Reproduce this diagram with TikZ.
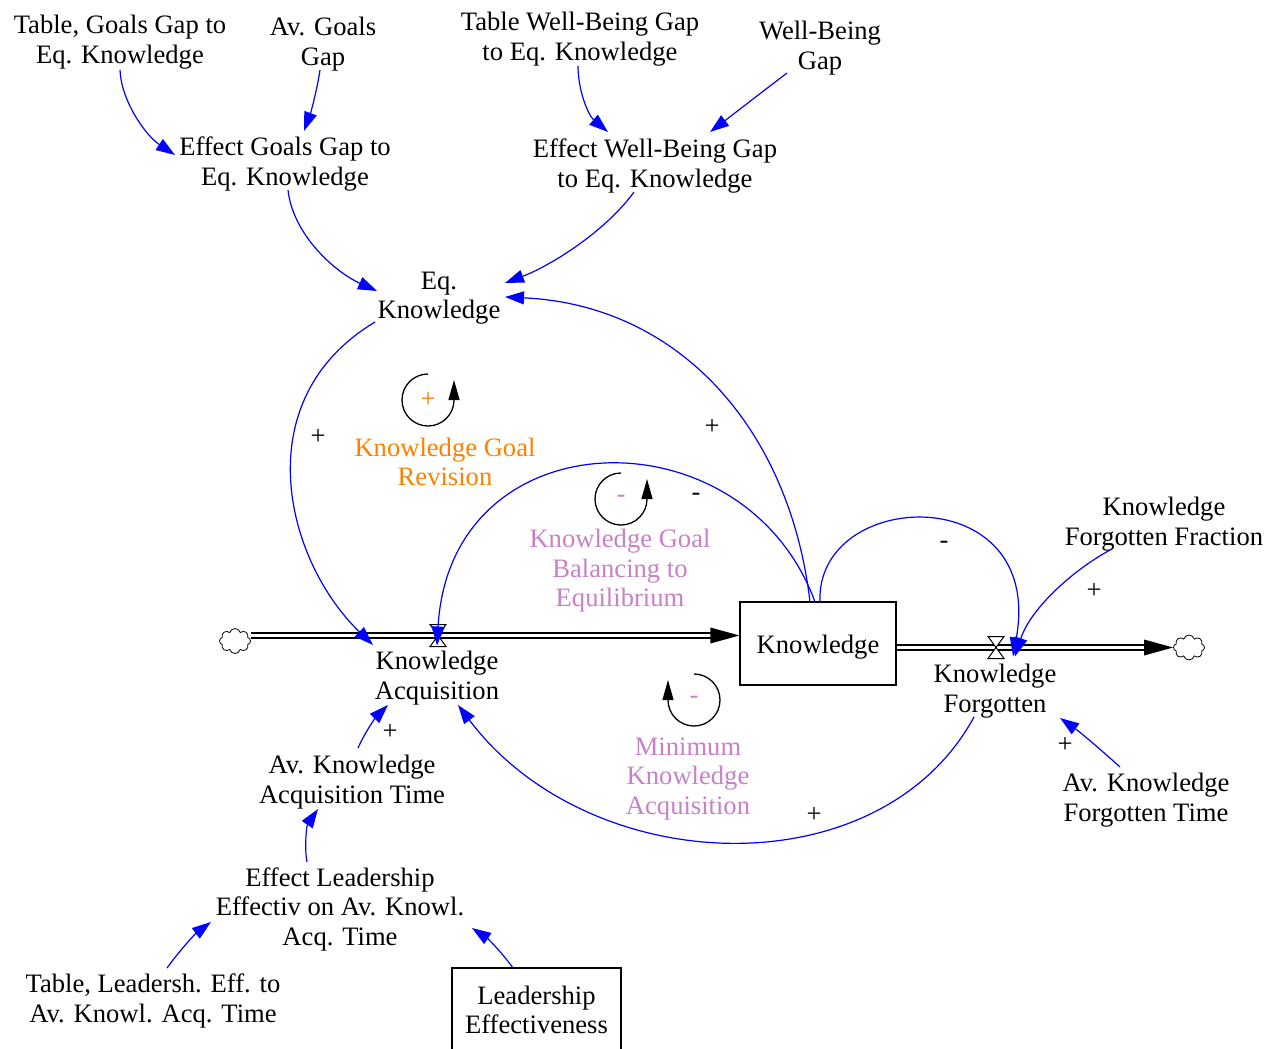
\documentclass[tikz,border=0pt]{standalone}
\usepackage{fontspec}
\setmainfont{Liberation Serif}
\usetikzlibrary{arrows.meta,calc,shapes.symbols}
\definecolor{linkblue}{RGB}{0,0,255}
\definecolor{looporange}{RGB}{255,128,0}
\definecolor{loopviolet}{RGB}{200,128,200}
\tikzset{
  txt/.style={align=center,font=\fontsize{26.6}{29.5}\selectfont},
  lbl/.style={txt,inner sep=1pt,yshift=-3pt},
  pol/.style={font=\fontsize{26.6}{29.5}\selectfont,inner sep=0pt,yshift=-2pt},
  cause/.style={draw=linkblue,line width=1.2pt,-{Triangle[length=19pt,width=13pt]}},
  stockbox/.style={txt,inner sep=1pt,draw,line width=1.2pt,minimum width=156pt,minimum height=83pt},
  pipe/.style={draw,double,double distance=3.5pt,line width=1.3pt},
  valvebox/.style={line width=1pt,fill=white},
  sink/.style={cloud,cloud puffs=8,draw,line width=0.8pt,minimum width=31pt,minimum height=25pt,inner sep=0pt,aspect=1.3},
  loopmark/.style={line width=1.3pt,-{Triangle[length=20pt,width=11pt]}},
}
\begin{document}
\begin{tikzpicture}[x=1pt,y=1pt]
\useasboundingbox (0,0) rectangle (1282,-1049);
\clip (0,0) rectangle (1282,-1049);

% auxiliaries and constants
\node[lbl] (tgg) at (120,-39) {Table, Goals Gap to\\Eq. Knowledge};
\node[lbl] (agg) at (323,-41) {Av. Goals\\Gap};
\node[lbl] (twb) at (580,-36) {Table Well-Being Gap\\to Eq. Knowledge};
\node[lbl] (wbg) at (820,-45) {Well-Being\\Gap};
\node[lbl] (egg) at (285,-161) {Effect Goals Gap to\\Eq. Knowledge};
\node[lbl] (ewb) at (655,-163) {Effect Well-Being Gap\\to Eq. Knowledge};
\node[lbl] (eqk) at (439,-295) {Eq.\\Knowledge};
\node[lbl] (ka) at (437,-675) {Knowledge\\Acquisition};
\node[lbl] (kf) at (995,-688) {Knowledge\\Forgotten};
\node[lbl] (kff) at (1164,-521) {Knowledge\\Forgotten Fraction};
\node[lbl] (akft) at (1146,-797) {Av. Knowledge\\Forgotten Time};
\node[lbl] (akat) at (352,-779) {Av. Knowledge\\Acquisition Time};
\node[lbl] (elk) at (340,-906) {Effect Leadership\\Effectiv on Av. Knowl.\\Acq. Time};
\node[lbl] (tle) at (153,-998) {Table, Leadersh. Eff. to\\Av. Knowl. Acq. Time};

% stocks
\node[stockbox] (kbox) at (818,-643.5) {\raisebox{-4pt}[\height][\depth]{Knowledge}};
\node[stockbox,minimum width=169pt,minimum height=84pt] (le) at (536.5,-1010) {Leadership\\Effectiveness};

% loop names
\node[lbl,text=looporange] (kgr) at (445,-459) {Knowledge Goal\\Revision};
\node[lbl,text=loopviolet] (kgb) at (620,-568) {Knowledge Goal\\Balancing to\\Equilibrium};
\node[lbl,text=loopviolet] (mka) at (688,-776) {Minimum\\Knowledge\\Acquisition};

% loop markers
\node[pol,text=looporange] (lm1) at (428,-398) {+};
\draw[loopmark] ($(lm1)+(0,26)$) arc[start angle=90,end angle=360,radius=26] -- ++(0,20);
\node[pol,text=loopviolet] (lm2) at (621,-497) {-};
\draw[loopmark] ($(lm2)+(0,26)$) arc[start angle=90,end angle=360,radius=26] -- ++(0,20);
\node[pol,text=loopviolet] (lm3) at (694,-698) {-};
\draw[loopmark] ($(lm3)+(0,26)$) arc[start angle=90,end angle=-180,radius=26] -- ++(0,20);

% clouds
\node[sink] (cl1) at (235,-641) {};
\node[sink] (cl2) at (1189,-647.5) {};

% inflow pipe
\coordinate (pin) at ($(kbox.west)+(0,8)$);
\draw[pipe] (cl1.east |- pin) -- ($(pin)+(-20,0)$);
\fill (pin) -- ++(-29,8) -- ++(0,-16) -- cycle;

% outflow pipe
\coordinate (pout) at ($(kbox.east)+(0,-4)$);
\draw[pipe] (pout) -- ($(cl2.west |- pout)+(-20,0)$);
\fill (cl2.west |- pout) -- ++(-29,8) -- ++(0,-16) -- cycle;

% valves
\coordinate (kav) at (438,-635.5);
\coordinate (kfv) at (996,-647.5);
\foreach \v in {kav,kfv}
  \draw[valvebox] ($(\v)+(-8,11)$) -- ($(\v)+(8,11)$) -- ($(\v)+(-8,-11)$) -- ($(\v)+(8,-11)$) -- cycle;

% causal links
\draw[cause] ($(tgg)+(0,-28)$) .. controls (121,-100) and (145,-135) .. ($(egg)+(-110,9)$);
\draw[cause] ($(agg)+(-3,-26)$) .. controls (317,-90) and (311,-112) .. ($(egg)+(19,33)$);
\draw[cause] ($(egg)+(3,-26)$) .. controls (293,-235) and (335,-272) .. ($(eqk)+(-62,7)$);
\draw[cause] ($(twb)+(-2,-27)$) .. controls (578,-90) and (588,-115) .. ($(ewb)+(-47,34)$);
\draw[cause] ($(wbg)+(-33,-25)$) .. controls (762,-92) and (735,-113) .. ($(ewb)+(55,34)$);
\draw[cause] ($(ewb)+(-21,-26)$) .. controls (605,-232) and (550,-266) .. ($(eqk)+(66,15)$);
\draw[cause] ($(kbox)+(-8,41.5)$) .. controls (790,-430) and (680,-305) .. ($(eqk)+(66,1)$);
\draw[cause] ($(eqk)+(-64,-24)$) .. controls (245,-400) and (285,-560) .. ($(ka)+(-64,33)$);
\draw[cause] ($(kbox)+(-3,41.5)$) .. controls (745,-410) and (450,-415) .. ($(kav)+(-1,-10)$);
\draw[cause] ($(kbox)+(2,41.5)$) .. controls (815,-488) and (1045,-478) .. ($(kfv)+(17,-9)$);
\draw[cause] ($(kff)+(-54,-26)$) .. controls (1070,-572) and (1030,-610) .. ($(kfv)+(19,-9)$);
\draw[cause] ($(akft)+(-26,33)$) .. controls (1100,-749) and (1080,-732) .. ($(kf)+(65,-27)$);
\draw[cause] ($(kf)+(-21,-26)$) .. controls (880,-890) and (590,-880) .. ($(ka)+(21,-27)$);
\draw[cause] ($(akat)+(6,34)$) .. controls (366,-730) and (377,-716) .. ($(ka)+(-49,-27)$);
\draw[cause] ($(elk)+(-33,47)$) .. controls (304,-845) and (307,-825) .. ($(akat)+(-34,-27)$);
\draw[cause] ($(tle)+(14,33)$) .. controls (180,-950) and (195,-934) .. ($(elk)+(-129,-13)$);
\draw[cause] ($(le)+(-23.5,42)$) .. controls (500,-950) and (487,-938) .. ($(elk)+(132,-19)$);

% link polarities
\node[pol] (s1) at (318,-435) {+};
\node[pol] (s2) at (712,-425) {+};
\node[pol] (s3) at (696,-495) {-};
\node[pol] (s4) at (944,-543) {-};
\node[pol] (s5) at (1094,-589) {+};
\node[pol] (s6) at (1065,-743) {+};
\node[pol] (s7) at (390,-730) {+};
\node[pol] (s8) at (814,-813) {+};
\end{tikzpicture}
\end{document}
